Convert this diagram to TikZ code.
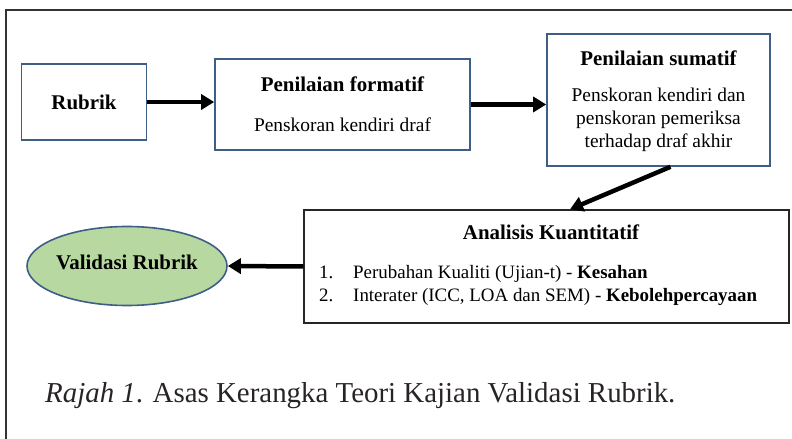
\documentclass[tikz,border=0pt]{standalone}
\usepackage{fontspec}
\setmainfont{Liberation Serif}
\usetikzlibrary{arrows.meta,shapes.geometric,calc}
\definecolor{boxblue}{RGB}{62,94,133}
\definecolor{valgreen}{RGB}{183,216,160}
\definecolor{capgray}{RGB}{40,36,37}
\tikzset{
  bluebox/.style={draw=boxblue,line width=1.6bp,rectangle,inner sep=0pt},
  blackbox/.style={draw=black!85,line width=1.4bp,rectangle,inner sep=0pt},
  ttl/.style={font=\fontsize{21}{25}\selectfont\bfseries,inner sep=0pt},
  bodytxt/.style={font=\fontsize{19.5}{23}\selectfont,align=center,inner sep=0pt},
  listtxt/.style={font=\fontsize{19}{23}\selectfont,inner sep=0pt,anchor=base west},
  flow/.style={line width=4.5bp,-{Triangle[length=13bp,width=15bp]}},
}
\begin{document}
\begin{tikzpicture}[x=1bp,y=-1bp]
\useasboundingbox (0,0) rectangle (792,439);
% outer frame (top and left edges)
\draw[line width=1.3bp,color=black!80] (6,439) -- (6,10) -- (792,10);

% Rubrik
\node[bluebox,minimum width=125bp,minimum height=76bp] (rub) at (84,102) {};
\node[ttl] (rubt) at (rub) {Rubrik};

% Penilaian formatif
\node[bluebox,minimum width=255bp,minimum height=91bp] (form) at (342.5,104.5) {};
\node[ttl] (formt) at (342.5,84) {Penilaian formatif};
\node[bodytxt] (formb) at (342.5,125) {Penskoran kendiri draf};

% Penilaian sumatif
\node[bluebox,minimum width=223bp,minimum height=132bp] (sum) at (658.5,100) {};
\node[ttl] (sumt) at (658.5,58) {Penilaian sumatif};
\node[bodytxt] (sumb) at (658.5,120) {Penskoran kendiri dan\\penskoran pemeriksa\\terhadap draf akhir};

% Analisis Kuantitatif
\node[blackbox,minimum width=485bp,minimum height=113bp] (ana) at (546.5,266.5) {};
\node[ttl] (anat) at (551,232) {Analisis Kuantitatif};
\node[listtxt] (n1) at (319,278.5) {1.};
\node[listtxt] (l1) at (353,278.5) {Perubahan Kualiti (Ujian-t) - \textbf{Kesahan}};
\node[listtxt] (n2) at (319,301.5) {2.};
\node[listtxt] (l2) at (353,301.5) {Interater (ICC, LOA dan SEM) - \textbf{Kebolehpercayaan}};

% Validasi Rubrik
\node[ellipse,draw=boxblue,line width=1.6bp,fill=valgreen,minimum width=200bp,minimum height=79bp,inner sep=0pt] (val) at (127,266) {};
\node[ttl] (valt) at (127,262) {Validasi Rubrik};

% connectors
\draw[flow] (rub.east) -- (form.west |- rub.east);
\draw[flow] (form.east) -- (sum.west |- form.east);
\coordinate (d1) at ([xshift=12bp]sum.south);
\coordinate (d2) at ([xshift=23.5bp]ana.north);
\draw[flow] (d1) -- (d2);
\draw[flow] (ana.west) -- (val.east);

% caption
\node[font=\fontsize{29}{34}\selectfont,text=capgray,anchor=base west,inner sep=0pt] (cap) at (45,402)
  {\textit{Rajah 1}. Asas Kerangka Teori Kajian Validasi Rubrik.};
\end{tikzpicture}
\end{document}
